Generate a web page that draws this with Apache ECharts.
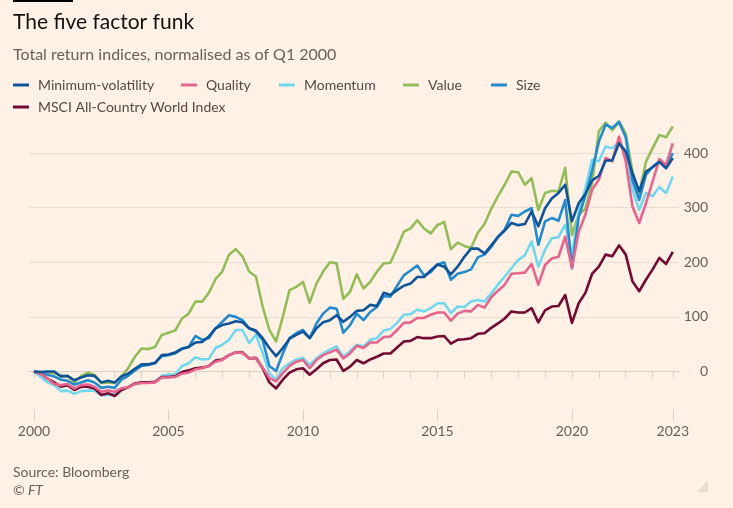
<!DOCTYPE html>
<html><head><meta charset="utf-8">
<script src="https://cdn.jsdelivr.net/npm/echarts@6/dist/echarts.min.js"></script>
<style>html,body{margin:0;padding:0;background:#FFF1E5;}#c{width:733px;height:508px;}</style>
</head><body><div id="c"></div>
<script>
// Quarterly dates (Q1 2000 .. Q4 2023)
const quarters = [];
for (let y = 2000; y <= 2023; y++) for (let q = 0; q < 4; q++) quarters.push(y + q / 4);

const minVol = [0,-1,0,0,-9,-8,-16,-11,-7,-8,
 -20,-17,-20,-9,-4,5,13,13,16,30,
 31,35,42,45,53,54,64,79,85,88,
 92,90,79,75,61,43,28,43,60,67,
 73,61,79,90,94,103,91,100,111,112,
 122,120,144,140,149,157,161,173,173,185,
 196,192,178,192,210,225,225,216,231,246,
 258,272,268,270,293,266,299,317,327,342,
 275,308,325,350,358,386,387,418,403,363,
 330,366,374,384,372,391];
const quality = [0,-4,-13,-23,-25,-23,-31,-25,-24,-28,
 -37,-35,-37,-31,-29,-23,-21,-21,-20,-11,
 -11,-10,-4,-2,4,6,10,18,21,30,
 35,34,24,24,7,-12,-18,-3,10,18,
 21,6,21,30,35,40,24,33,47,43,
 53,53,63,64,76,89,90,98,98,104,
 108,108,93,106,111,110,122,117,136,148,
 159,179,180,181,197,159,195,207,210,247,
 190,256,287,333,351,391,385,430,385,302,
 272,308,348,389,378,418];
const momentum = [0,-10,-20,-25,-36,-35,-41,-36,-35,-35,
 -43,-43,-41,-34,-28,-23,-20,-20,-19,-8,
 -6,-5,10,15,26,22,23,43,49,58,
 76,76,52,67,34,-3,-15,6,15,22,
 25,12,24,33,40,46,27,37,49,46,
 58,61,75,78,89,104,105,113,110,116,
 125,125,107,119,118,128,131,128,143,159,
 174,189,204,213,238,192,223,244,246,269,
 213,290,336,388,385,412,409,421,394,333,
 296,327,321,338,327,357];
const value = [0,-1,-2,-3,-8,-9,-20,-8,-2,-6,
 -21,-20,-21,-9,6,27,42,41,45,67,
 71,75,97,106,128,128,144,169,183,214,
 224,211,183,174,119,76,55,100,149,155,
 164,126,161,183,200,198,133,146,178,152,
 164,183,198,199,226,256,262,277,262,253,
 268,274,224,236,230,226,254,270,298,321,
 342,366,365,342,354,296,327,331,330,373,
 250,287,298,345,440,456,442,458,436,366,
 324,384,409,433,429,449];
const size = [0,-3,-6,-9,-15,-17,-24,-20,-16,-20,
 -30,-28,-30,-15,-8,2,10,12,15,28,
 30,33,41,45,65,58,61,79,91,103,
 100,94,79,73,58,10,1,33,61,70,
 76,61,88,106,117,115,71,85,106,94,
 109,118,138,137,157,176,185,194,176,182,
 196,200,168,179,182,187,209,214,228,247,
 260,287,285,293,299,232,275,281,276,314,
 189,283,322,368,421,452,446,457,429,350,
 314,360,375,385,377,400];
const msci = [0,-4,-13,-20,-28,-25,-34,-28,-28,-31,
 -43,-40,-45,-34,-29,-22,-20,-20,-19,-10,
 -10,-9,-1,2,6,7,10,20,22,30,
 35,35,24,25,6,-20,-31,-15,-2,4,
 6,-6,4,15,21,22,1,9,21,15,
 22,27,33,33,44,55,56,63,61,61,
 64,65,51,58,59,61,69,70,80,88,
 97,110,108,108,116,90,112,119,120,140,
 89,125,144,179,192,214,211,231,214,165,
 147,168,187,208,197,219];

const seriesNames = ['Minimum-volatility','Quality','Momentum','Value','Size','MSCI All-Country World Index'];
const xTickValues = [2000,2001,2002,2003,2004,2005,2006,2007,2008,2009,2010,2011,2012,2013,2014,2015,2016,2017,2018,2019,2020,2021,2022,2023,2023.75];
const xLabelValues = [2000,2005,2010,2015,2020,2023.75];
const xLabelText = ['2000','2005','2010','2015','2020','2023'];
const yTickValues = [0,100,200,300,400];

const FONT = 'Lato, "Noto Sans", sans-serif';
const colors = {
  'Minimum-volatility': '#0f5499',
  'Quality': '#e5658e',
  'Momentum': '#72d8ee',
  'Value': '#93bd58',
  'Size': '#238bcd',
  'MSCI All-Country World Index': '#720a33'
};
const dataMap = {
  'Minimum-volatility': minVol, 'Quality': quality, 'Momentum': momentum,
  'Value': value, 'Size': size, 'MSCI All-Country World Index': msci
};
const zOrder = {'Value':1,'Momentum':2,'Size':3,'MSCI All-Country World Index':4,'Quality':5,'Minimum-volatility':6};

const chart = echarts.init(document.getElementById('c'), null, {renderer:'canvas'});

function legendFor(name, left, top) {
  return {
    data: [name], left: left, top: top, padding: 0, icon: 'rect',
    itemWidth: 16, itemHeight: 3, selectedMode: false,
    textStyle: {fontFamily: FONT, fontSize: 14, color: '#4f4a47', lineHeight: 16, padding: [0,0,0,4]}
  };
}

const option = {
  backgroundColor: '#FFF1E5',
  animation: false,
  textStyle: {fontFamily: FONT},
  grid: {left: 29, right: 54, top: 109.4, bottom: 98.3},
  legend: [
    legendFor('Minimum-volatility', 13, 77),
    legendFor('Quality', 181, 77),
    legendFor('Momentum', 279, 77),
    legendFor('Value', 403, 77),
    legendFor('Size', 491, 77),
    legendFor('MSCI All-Country World Index', 13, 99)
  ],
  xAxis: [{
    type: 'value', min: 1999.814, max: 2023.98, position: 'bottom',
    splitLine: {show: false},
    axisLine: {show: true, lineStyle: {color: '#dbd0c6', width: 1}},
    axisTick: {show: true, customValues: xTickValues, length: 7, lineStyle: {color: '#dbd0c6'}},
    axisLabel: {customValues: xLabelValues, margin: 15, fontSize: 14, fontFamily: FONT, color: '#66605c',
      formatter: v => xLabelText[xLabelValues.indexOf(v)] || ''}
  }, {
    type: 'value', min: 1999.814, max: 2023.98, position: 'bottom', offset: 0,
    splitLine: {show: false},
    axisLine: {show: false},
    axisTick: {show: true, customValues: xLabelValues, length: 11, lineStyle: {color: '#dbd0c6'}},
    axisLabel: {show: false}
  }],
  yAxis: {
    type: 'value', min: -70, max: 480, position: 'right',
    axisLine: {show: false},
    axisTick: {show: false, customValues: yTickValues},
    splitLine: {show: true, lineStyle: {color: '#e9ded4', width: 1}},
    axisLabel: {customValues: yTickValues, align: 'right', margin: 29, fontSize: 14, fontFamily: FONT, color: '#66605c'}
  },
  series: seriesNames.map(name => ({
    name: name, type: 'line', xAxisIndex: 0,
    data: quarters.map((q, i) => [q, dataMap[name][i]]),
    showSymbol: false, symbol: 'none', z: zOrder[name],
    color: colors[name],
    lineStyle: {width: 2.6, color: colors[name], join: 'round'},
    emphasis: {disabled: true}
  })),
  graphic: [
    {type: 'rect', left: 13, top: 0, shape: {width: 60, height: 2}, style: {fill: '#000'}},
    {type: 'text', style: {x: 13, y: 22, text: 'The five factor funk', fill: '#111', font: '21px ' + FONT, verticalAlign: 'middle'}},
    {type: 'text', style: {x: 13, y: 54.5, text: 'Total return indices, normalised as of Q1 2000', fill: '#66605c', font: '16px ' + FONT, verticalAlign: 'middle'}},
    {type: 'text', style: {x: 13, y: 472, text: 'Source: Bloomberg', fill: '#66605c', font: '14px ' + FONT, verticalAlign: 'middle'}},
    {type: 'text', style: {x: 13, y: 490, text: '© FT', fill: '#66605c', font: 'italic 14px ' + FONT, verticalAlign: 'middle'}},
    {type: 'polygon', shape: {points: [[708,481],[708,492],[697,492]]}, style: {fill: '#e6dcd3'}}
  ]
};
chart.setOption(option);
</script></body></html>
